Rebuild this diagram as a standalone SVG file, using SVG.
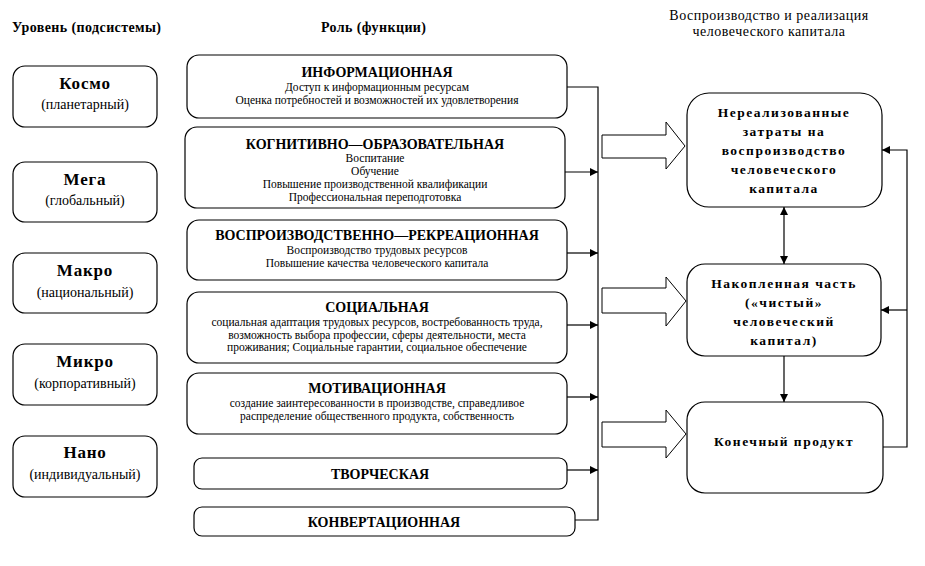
<svg xmlns="http://www.w3.org/2000/svg" width="925" height="566" viewBox="0 0 925 566">
<style>
.box{fill:#fff;stroke:#000;stroke-width:1.2}
.t{font-family:"Liberation Serif","Times New Roman",serif;fill:#000;text-anchor:middle}
.h{font-size:14px;font-weight:bold;text-anchor:start;letter-spacing:0.4px}
.rh{font-size:14px;letter-spacing:0.5px}
.lt{font-size:17px;font-weight:bold;letter-spacing:0.8px}
.ls{font-size:14px}
.mt{font-size:14px;font-weight:bold}
.md{font-size:11.5px}
.rt{font-size:13.5px;font-weight:bold;letter-spacing:1.5px}
.ln{fill:none;stroke:#000;stroke-width:1.2}
.blk{fill:#fff;stroke:#000;stroke-width:1}
</style>
<defs>
<marker id="ah" viewBox="0 0 10 10" refX="10" refY="5" markerWidth="8" markerHeight="8" markerUnits="userSpaceOnUse" orient="auto-start-reverse">
<path d="M0,0 L10,5 L0,10 z" fill="#000"/>
</marker>
</defs>
<rect width="925" height="566" fill="#fff"/>
<g id="headers">
<text class="t h" x="12" y="32">Уровень (подсистемы)</text>
<text class="t h" x="321" y="32">Роль (функции)</text>
<text class="t rh" x="769" y="20">Воспроизводство и реализация</text>
<text class="t rh" x="769" y="36">человеческого капитала</text>
</g>
<g id="kosmo"><rect class="box" x="13" y="66" width="144" height="61" rx="12"/><text class="t lt" x="85" y="89">Космо</text><text class="t ls" x="85" y="109">(планетарный)</text></g>
<g id="mega"><rect class="box" x="13" y="162" width="144" height="60" rx="12"/><text class="t lt" x="85" y="185">Мега</text><text class="t ls" x="85" y="205">(глобальный)</text></g>
<g id="makro"><rect class="box" x="13" y="253" width="144" height="60" rx="12"/><text class="t lt" x="85" y="276">Макро</text><text class="t ls" x="85" y="297">(национальный)</text></g>
<g id="mikro"><rect class="box" x="13" y="344" width="144" height="61" rx="12"/><text class="t lt" x="85" y="367">Микро</text><text class="t ls" x="85" y="388">(корпоративный)</text></g>
<g id="nano"><rect class="box" x="13" y="436" width="144" height="61" rx="12"/><text class="t lt" x="85" y="458">Нано</text><text class="t ls" x="85" y="479">(индивидуальный)</text></g>

<g id="inform"><rect class="box" x="187" y="55" width="380" height="63" rx="12"/>
<text class="t mt" x="377" y="77">ИНФОРМАЦИОННАЯ</text>
<text class="t md" x="377" y="91">Доступ к информационным ресурсам</text>
<text class="t md" x="377" y="104">Оценка потребностей и возможностей их удовлетворения</text></g>
<g id="kognit"><rect class="box" x="185" y="127" width="380" height="81" rx="12"/>
<text class="t mt" x="375" y="149">КОГНИТИВНО—ОБРАЗОВАТЕЛЬНАЯ</text>
<text class="t md" x="375" y="162">Воспитание</text>
<text class="t md" x="375" y="175">Обучение</text>
<text class="t md" x="375" y="188">Повышение производственной квалификации</text>
<text class="t md" x="375" y="201">Профессиональная переподготовка</text></g>
<g id="vospr"><rect class="box" x="187" y="220" width="380" height="60" rx="12"/>
<text class="t mt" x="377" y="240">ВОСПРОИЗВОДСТВЕННО—РЕКРЕАЦИОННАЯ</text>
<text class="t md" x="377" y="254">Воспроизводство трудовых ресурсов</text>
<text class="t md" x="377" y="267">Повышение качества человеческого капитала</text></g>
<g id="social"><rect class="box" x="187" y="292" width="380" height="71" rx="12"/>
<text class="t mt" x="377" y="312">СОЦИАЛЬНАЯ</text>
<text class="t md" x="377" y="326">социальная адаптация трудовых ресурсов, востребованность труда,</text>
<text class="t md" x="377" y="339">возможность выбора профессии, сферы деятельности, места</text>
<text class="t md" x="377" y="351">проживания; Социальные гарантии, социальное обеспечение</text></g>
<g id="motiv"><rect class="box" x="187" y="373" width="380" height="61" rx="12"/>
<text class="t mt" x="377" y="393">МОТИВАЦИОННАЯ</text>
<text class="t md" x="377" y="407">создание заинтересованности в производстве, справедливое</text>
<text class="t md" x="377" y="420">распределение общественного продукта, собственность</text></g>
<g id="tvorch"><rect class="box" x="194" y="458" width="373" height="31" rx="8"/>
<text class="t mt" x="380" y="479">ТВОРЧЕСКАЯ</text></g>
<g id="konvert"><rect class="box" x="194" y="507" width="381" height="29" rx="8"/>
<text class="t mt" x="384" y="527">КОНВЕРТАЦИОННАЯ</text></g>

<g id="nerealiz"><rect class="box" x="687" y="93" width="195" height="114" rx="22"/>
<text class="t rt" x="784" y="117">Нереализованные</text>
<text class="t rt" x="784" y="136">затраты на</text>
<text class="t rt" x="784" y="155">воспроизводство</text>
<text class="t rt" x="784" y="174">человеческого</text>
<text class="t rt" x="784" y="193">капитала</text></g>
<g id="nakopl"><rect class="box" x="687" y="264" width="194" height="92" rx="18"/>
<text class="t rt" x="784" y="288">Накопленная часть</text>
<text class="t rt" x="784" y="307">(«чистый»</text>
<text class="t rt" x="784" y="326">человеческий</text>
<text class="t rt" x="784" y="345">капитал)</text></g>
<g id="konech"><rect class="box" x="687" y="402" width="196" height="91" rx="18"/>
<text class="t rt" x="784" y="446">Конечный продукт</text></g>

<g id="connectors">
<path class="ln" d="M567,87 H598 V520 H575"/>
<path class="ln" d="M565,172 H598" marker-end="url(#ah)"/>
<path class="ln" d="M567,253 H598" marker-end="url(#ah)"/>
<path class="ln" d="M567,325 H598" marker-end="url(#ah)"/>
<path class="ln" d="M567,397 H598" marker-end="url(#ah)"/>
<path class="ln" d="M567,470 H598" marker-end="url(#ah)"/>
<path class="blk" d="M602,135 H666 V122 L685,146 L666,169 V158 H602 Z"/>
<path class="blk" d="M602,288 H666 V277 L686,301 L666,326 V313 H602 Z"/>
<path class="blk" d="M602,422 H666 V410 L686,434 L666,458 V447 H602 Z"/>
<path class="ln" d="M784,207 V264" marker-start="url(#ah)" marker-end="url(#ah)"/>
<path class="ln" d="M784,356 V402" marker-end="url(#ah)"/>
<path class="ln" d="M883,447 H907 V150 H882" marker-end="url(#ah)"/>
<path class="ln" d="M907,310 H881" marker-end="url(#ah)"/>
</g>
</svg>
